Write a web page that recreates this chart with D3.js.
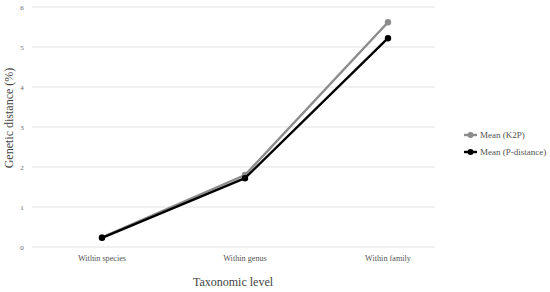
<!DOCTYPE html>
<html><head><meta charset="utf-8">
<script src="https://cdn.jsdelivr.net/npm/d3@7"></script>
<style>body{margin:0;background:#fff}svg{display:block}</style>
</head><body>
<script>
const categories = ["Within species", "Within genus", "Within family"];
const seriesNames = ["Mean (K2P)", "Mean (P-distance)"];
const k2p = [0.24, 1.80, 5.62];
const pdist = [0.23, 1.72, 5.22];
const yTicks = [0, 1, 2, 3, 4, 5, 6];
const colors = ["#8c8c8c", "#000000"];

const W = 550, H = 292;
const svg = d3.select("body").append("svg").attr("width", W).attr("height", H);
const font = "'Liberation Serif','DejaVu Serif',serif";

const y = d3.scaleLinear().domain([0, 6]).range([247, 7]);
const x = d3.scalePoint().domain(categories).range([102, 388]);
const gridX0 = 32, gridX1 = 435;

// gridlines
svg.append("g").selectAll("line").data(yTicks).join("line")
  .attr("x1", gridX0).attr("x2", gridX1)
  .attr("y1", d => y(d)).attr("y2", d => y(d))
  .attr("stroke", "#e3e3e3").attr("stroke-width", 1);

// y tick labels
svg.append("g").selectAll("text").data(yTicks).join("text")
  .attr("x", 22).attr("y", d => y(d) + 2.5)
  .attr("text-anchor", "middle")
  .attr("font-family", font).attr("font-size", 7).attr("fill", "#666")
  .text(d => d);

// x category labels
svg.append("g").selectAll("text").data(categories).join("text")
  .attr("x", d => x(d)).attr("y", 261)
  .attr("text-anchor", "middle")
  .attr("font-family", font).attr("font-size", 8.2).attr("fill", "#555")
  .text(d => d);

// axis titles
svg.append("text").attr("x", 233).attr("y", 286).attr("text-anchor", "middle")
  .attr("font-family", font).attr("font-size", 12).attr("fill", "#444")
  .text("Taxonomic level");
svg.append("text").attr("transform", "translate(13,118) rotate(-90)")
  .attr("text-anchor", "middle")
  .attr("font-family", font).attr("font-size", 12).attr("fill", "#444")
  .text("Genetic distance (%)");

const series = [k2p, pdist];
const line = d3.line().x((d, i) => x(categories[i])).y(d => y(d));
series.forEach((s, k) => {
  const g = svg.append("g");
  g.append("path").datum(s).attr("d", line)
    .attr("fill", "none").attr("stroke", colors[k]).attr("stroke-width", 2.4)
    .attr("stroke-linejoin", "round");
  g.selectAll("circle").data(s).join("circle")
    .attr("cx", (d, i) => x(categories[i])).attr("cy", d => y(d))
    .attr("r", 3.2).attr("fill", colors[k]);
});

// legend
const leg = svg.append("g");
seriesNames.forEach((n, k) => {
  const ly = 135 + k * 17;
  leg.append("line").attr("x1", 464).attr("x2", 477).attr("y1", ly).attr("y2", ly)
    .attr("stroke", colors[k]).attr("stroke-width", 2.4);
  leg.append("circle").attr("cx", 470.5).attr("cy", ly).attr("r", 3).attr("fill", colors[k]);
  leg.append("text").attr("x", 480).attr("y", ly + 3)
    .attr("font-family", font).attr("font-size", 9).attr("fill", "#555")
    .text(n);
});
</script>
</body></html>
